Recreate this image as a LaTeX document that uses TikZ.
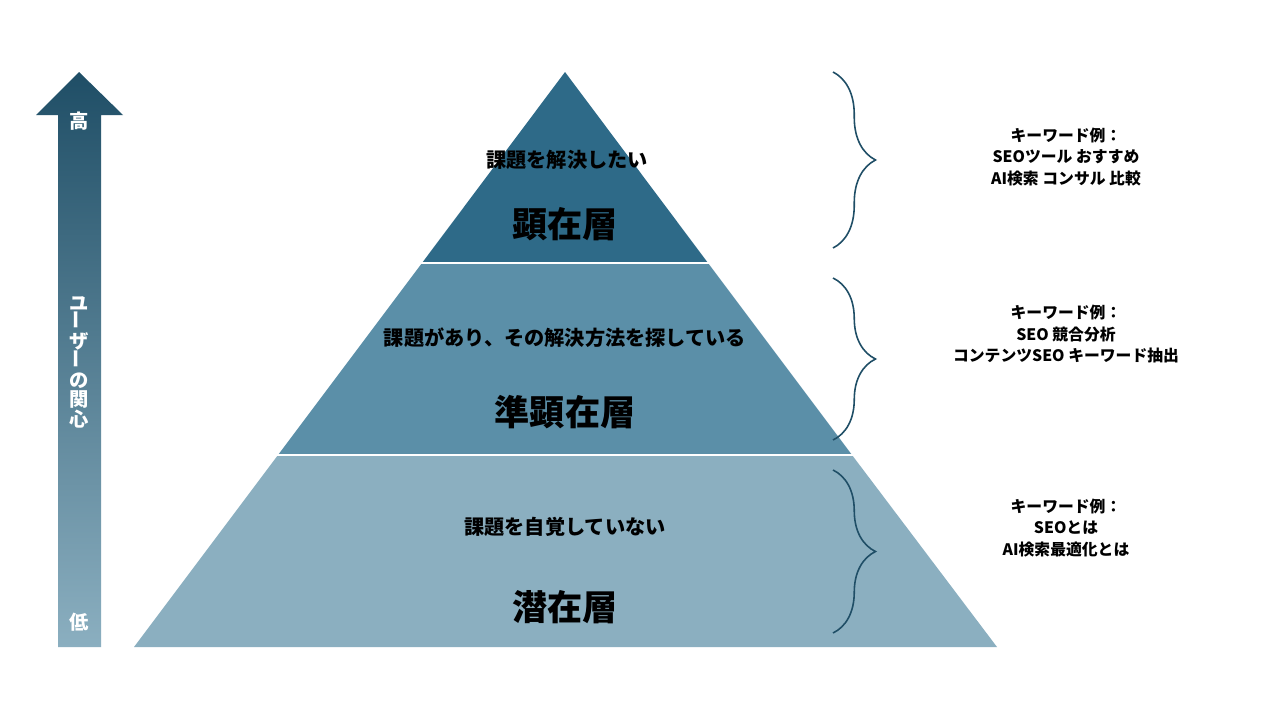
\documentclass[tikz,border=0pt]{standalone}
\usepackage{fontspec}
\setmainfont{Noto Sans CJK JP}
\usetikzlibrary{decorations.pathreplacing,shadings}
\definecolor{tiertop}{HTML}{2E6A88}
\definecolor{tiermid}{HTML}{5B8FA8}
\definecolor{tierlow}{HTML}{8BAFC0}
\definecolor{arrowdark}{HTML}{1F4E66}
\tikzset{
  tier/.style={draw=white, line width=1.2pt},
  lead/.style={font=\fontsize{11.5}{13}\selectfont\bfseries},
  layer/.style={font=\fontsize{20}{24}\selectfont\bfseries},
  kw/.style={font=\fontsize{9}{12}\selectfont\bfseries, align=center},
  bracket/.style={draw=arrowdark, line width=0.9pt, decorate,
    decoration={brace, amplitude=0.85cm}},
  axislabel/.style={text=white, font=\fontsize{11}{13}\selectfont\bfseries}
}
\begin{document}
\begin{tikzpicture}[x=0.02cm, y=-0.02cm]
  \useasboundingbox (0,0) rectangle (1280,720);
  \fill[white] (0,0) rectangle (1280,720);
  % Interest arrow
  \shade[top color=arrowdark, bottom color=tierlow]
    (58,647) -- (58,115) -- (36,115) -- (79,72) -- (123,115) -- (101,115) -- (101,647) -- cycle;
  \node[axislabel] (high) at (79,121) {高};
  \node[axislabel] (low) at (79,622) {低};
  \node[axislabel, align=center, inner sep=0pt] (interest) at (79,362)
    {ユ\\[-2pt]\rotatebox{90}{ー}\\[-2pt]ザ\\[-2pt]\rotatebox{90}{ー}\\[-2pt]の\\[-2pt]関\\[-2pt]心};
  % Pyramid tiers
  \fill[tierlow] (278,455) -- (852,455) -- (997,647) -- (134,647) -- cycle;
  \fill[tiermid] (422,263) -- (708,263) -- (852,455) -- (278,455) -- cycle;
  \fill[tiertop] (565,72) -- (708,263) -- (422,263) -- cycle;
  \draw[tier] (420,263) -- (710,263);
  \draw[tier] (276,455) -- (854,455);
  % Tier texts
  \node[lead] (needtop) at (567,160) {課題を解決したい};
  \node[layer] (top) at (565,224) {顕在層};
  \node[lead] (needmid) at (565,338) {課題があり、その解決方法を探している};
  \node[layer] (mid) at (565,412) {準顕在層};
  \node[lead] (needlow) at (565,527) {課題を自覚していない};
  \node[layer] (low) at (565,607) {潜在層};
  % Braces
  \draw[bracket] (833,72) -- (833,248);
  \draw[bracket] (833,278) -- (833,440);
  \draw[bracket] (833,470) -- (833,633);
  % Keyword examples
  \node[kw] (kwtop) at (1066,157) {キーワード例：\\SEOツール おすすめ\\AI検索 コンサル 比較};
  \node[kw] (kwmid) at (1066,334) {キーワード例：\\SEO 競合分析\\コンテンツSEO キーワード抽出};
  \node[kw] (kwlow) at (1066,528) {キーワード例：\\SEOとは\\AI検索最適化とは};
\end{tikzpicture}
\end{document}
